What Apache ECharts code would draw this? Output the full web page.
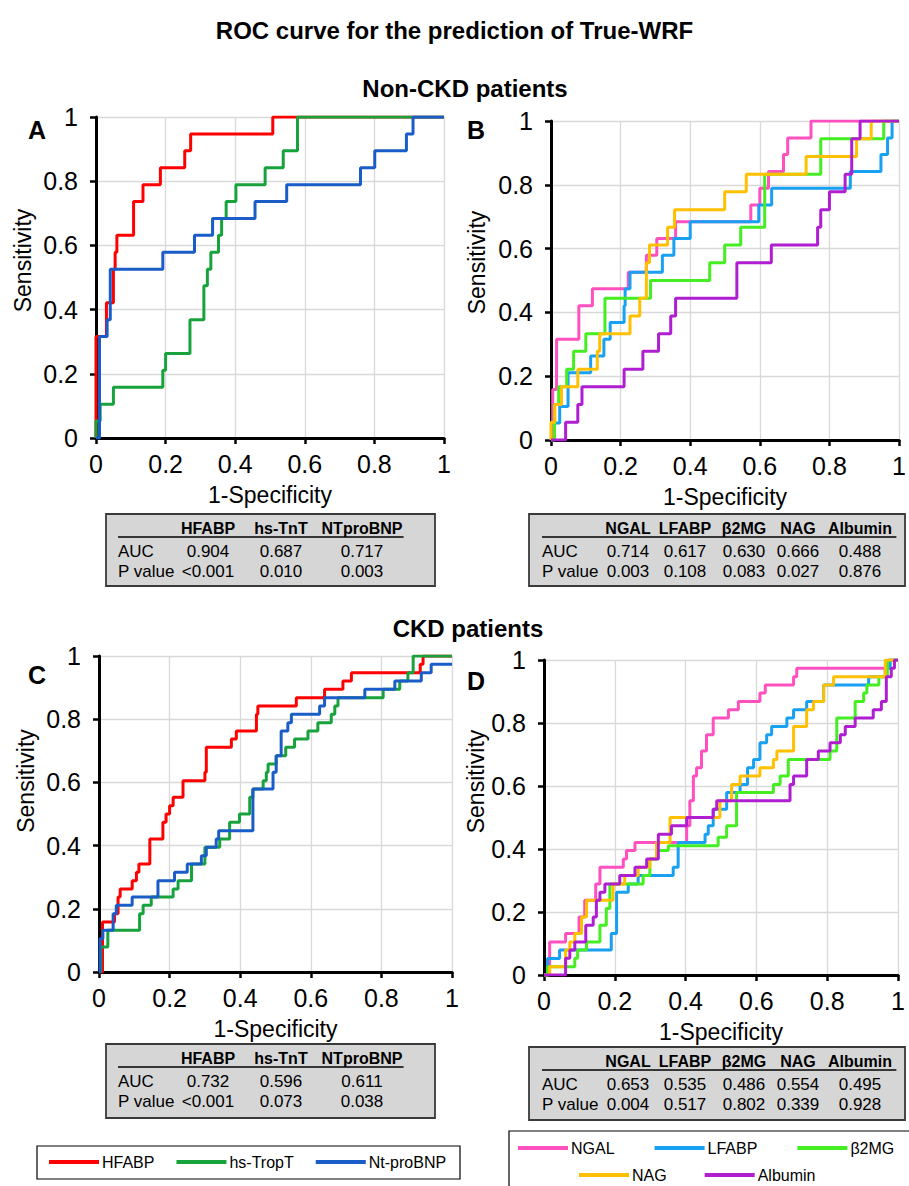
<!DOCTYPE html>
<html><head><meta charset="utf-8">
<script src="https://cdn.jsdelivr.net/npm/echarts@6/dist/echarts.min.js"></script>
<style>html,body{margin:0;padding:0;background:#fff}#c{width:909px;height:1186px}</style>
</head><body><div id="c"></div>
<script>
// ---------- DATA ----------
const tickLabels = ['0', '0.2', '0.4', '0.6', '0.8', '1'];
const mainTitle = 'ROC curve for the prediction of True-WRF';
const groupTitles = ['Non-CKD patients', 'CKD patients'];
const panelLetters = ['A', 'B', 'C', 'D'];
const xName = '1-Specificity';
const yName = 'Sensitivity';

const cardiacNames = ['HFABP', 'hs-TropT', 'Nt-proBNP'];
const urineNames = ['NGAL', 'LFABP', 'β2MG', 'NAG', 'Albumin'];

// Panel A (Non-CKD, cardiac)
const A_HFABP_x = [0,0,0.03,0.03,0.05,0.055,0.06,0.108,0.135,0.185,0.255,0.272,0.508,1];
const A_HFABP_y = [0,0.316,0.368,0.421,0.526,0.579,0.632,0.737,0.789,0.842,0.895,0.947,1,1];
const A_TnT_x = [0,0,0.012,0.05,0.192,0.2,0.27,0.31,0.32,0.33,0.352,0.361,0.374,0.402,0.486,0.538,0.579,1];
const A_TnT_y = [0,0.053,0.105,0.158,0.211,0.263,0.368,0.474,0.526,0.579,0.632,0.684,0.737,0.789,0.842,0.895,1,1];
const A_BNP_x = [0,0.01,0.032,0.041,0.192,0.283,0.335,0.457,0.548,0.76,0.801,0.892,0.911,1];
const A_BNP_y = [0,0.316,0.368,0.526,0.579,0.632,0.684,0.737,0.789,0.842,0.895,0.947,1,1];

// Panel B (Non-CKD, urinary)
const B_NGAL_x = [0,0.005,0.016,0.08,0.119,0.222,0.274,0.304,0.358,0.574,0.6,0.625,0.668,0.68,0.747,1];
const B_NGAL_y = [0,0.158,0.316,0.421,0.474,0.526,0.579,0.632,0.684,0.737,0.789,0.842,0.895,0.947,1,1];
const B_LFABP_x = [0,0.01,0.025,0.049,0.114,0.152,0.17,0.21,0.213,0.227,0.32,0.353,0.4,0.597,0.634,0.86,0.948,0.967,0.98,1];
const B_LFABP_y = [0,0.053,0.105,0.211,0.263,0.316,0.368,0.421,0.474,0.526,0.579,0.632,0.684,0.737,0.789,0.842,0.895,0.947,1,1];
const B_B2MG_x = [0,0.01,0.022,0.045,0.065,0.1,0.155,0.286,0.456,0.499,0.545,0.614,0.775,0.956,1];
const B_B2MG_y = [0,0.111,0.167,0.222,0.278,0.333,0.444,0.5,0.556,0.611,0.667,0.833,0.944,1,1];
const B_NAG_x = [0,0,0.011,0.03,0.077,0.133,0.14,0.227,0.255,0.274,0.283,0.335,0.355,0.499,0.561,0.733,0.878,0.92,1];
const B_NAG_y = [0,0.056,0.111,0.167,0.222,0.278,0.333,0.389,0.444,0.556,0.611,0.667,0.722,0.778,0.833,0.889,0.944,1,1];
const B_ALB_x = [0,0.042,0.077,0.089,0.21,0.264,0.309,0.344,0.358,0.534,0.633,0.766,0.775,0.8,0.845,0.864,0.888,1];
const B_ALB_y = [0,0.056,0.111,0.167,0.222,0.278,0.333,0.389,0.444,0.556,0.611,0.667,0.722,0.778,0.833,0.944,1,1];

// Panel C (CKD, cardiac)
const C_HFABP_x = [0,0.01,0.044,0.054,0.06,0.094,0.106,0.113,0.144,0.181,0.19,0.2,0.21,0.238,0.3,0.304,0.375,0.389,0.446,0.45,0.559,0.639,0.691,0.715,0.91,0.918,1];
const C_HFABP_y = [0,0.158,0.184,0.237,0.263,0.289,0.316,0.342,0.421,0.474,0.5,0.526,0.553,0.605,0.632,0.711,0.737,0.763,0.816,0.842,0.868,0.895,0.921,0.947,0.974,1,1];
const C_TnT_x = [0,0.005,0.025,0.115,0.125,0.148,0.21,0.224,0.262,0.3,0.342,0.37,0.398,0.427,0.436,0.465,0.474,0.479,0.502,0.529,0.554,0.592,0.62,0.658,0.668,0.677,0.767,0.805,0.852,0.875,0.89,1];
const C_TnT_y = [0,0.079,0.132,0.184,0.211,0.237,0.263,0.289,0.342,0.395,0.421,0.474,0.5,0.553,0.579,0.605,0.632,0.658,0.684,0.711,0.737,0.763,0.789,0.816,0.842,0.868,0.868,0.895,0.921,0.947,1,1];
const C_BNP_x = [0,0.003,0.011,0.04,0.049,0.094,0.167,0.214,0.25,0.29,0.304,0.332,0.339,0.436,0.493,0.502,0.516,0.535,0.545,0.625,0.639,0.753,0.838,0.913,0.941,1];
const C_BNP_y = [0,0.105,0.132,0.184,0.211,0.237,0.289,0.316,0.342,0.368,0.395,0.421,0.447,0.579,0.632,0.684,0.763,0.789,0.816,0.842,0.868,0.895,0.921,0.947,0.974,0.974];

// Panel D (CKD, urinary)
const D_NGAL_x = [0,0.01,0.016,0.061,0.099,0.115,0.146,0.158,0.224,0.233,0.257,0.403,0.412,0.422,0.431,0.445,0.459,0.478,0.521,0.549,0.61,0.625,0.705,0.714,0.974,1];
const D_NGAL_y = [0,0.026,0.105,0.132,0.184,0.237,0.289,0.342,0.368,0.395,0.421,0.474,0.553,0.632,0.658,0.711,0.763,0.816,0.842,0.868,0.895,0.921,0.947,0.974,1,1];
const D_LFABP_x = [0,0.01,0.044,0.19,0.205,0.238,0.266,0.365,0.379,0.455,0.464,0.478,0.516,0.554,0.575,0.592,0.61,0.629,0.643,0.686,0.705,0.742,0.79,0.917,0.964,0.978,1];
const D_LFABP_y = [0,0.052,0.079,0.132,0.263,0.289,0.316,0.342,0.421,0.447,0.474,0.526,0.579,0.605,0.658,0.684,0.737,0.763,0.789,0.816,0.842,0.868,0.921,0.947,0.974,1,1];
const D_B2MG_x = [0,0.01,0.087,0.095,0.12,0.158,0.176,0.186,0.28,0.299,0.318,0.351,0.492,0.516,0.544,0.648,0.667,0.69,0.808,0.827,0.879,0.903,0.912,0.946,0.97,1];
const D_B2MG_y = [0,0.026,0.053,0.079,0.105,0.158,0.211,0.289,0.316,0.368,0.395,0.41,0.437,0.474,0.579,0.605,0.632,0.684,0.711,0.816,0.868,0.895,0.921,0.947,1,1];
const D_NAG_x = [0,0.016,0.061,0.073,0.087,0.106,0.12,0.195,0.228,0.266,0.299,0.318,0.356,0.497,0.53,0.554,0.61,0.648,0.658,0.705,0.742,0.761,0.79,0.818,0.964,1];
const D_NAG_y = [0,0.026,0.079,0.105,0.132,0.184,0.237,0.289,0.316,0.342,0.368,0.421,0.5,0.553,0.605,0.632,0.658,0.684,0.711,0.789,0.842,0.868,0.921,0.947,1,1];
const D_ALB_x = [0,0.061,0.073,0.087,0.118,0.139,0.148,0.158,0.172,0.214,0.257,0.29,0.323,0.36,0.403,0.478,0.488,0.695,0.705,0.742,0.775,0.808,0.837,0.851,0.879,0.93,0.953,0.967,0.981,0.99,1];
const D_ALB_y = [0,0.053,0.079,0.105,0.158,0.184,0.237,0.263,0.289,0.316,0.342,0.368,0.447,0.474,0.5,0.526,0.553,0.605,0.632,0.684,0.711,0.737,0.763,0.789,0.816,0.842,0.868,0.947,0.974,1,1];

// Tables
const cardiacHeaders = ['HFABP', 'hs-TnT', 'NTproBNP'];
const urineHeaders = ['NGAL', 'LFABP', 'β2MG', 'NAG', 'Albumin'];
const rowLabels = ['AUC', 'P value'];
const tableA_auc = ['0.904', '0.687', '0.717'];
const tableA_p = ['<0.001', '0.010', '0.003'];
const tableB_auc = ['0.714', '0.617', '0.630', '0.666', '0.488'];
const tableB_p = ['0.003', '0.108', '0.083', '0.027', '0.876'];
const tableC_auc = ['0.732', '0.596', '0.611'];
const tableC_p = ['<0.001', '0.073', '0.038'];
const tableD_auc = ['0.653', '0.535', '0.486', '0.554', '0.495'];
const tableD_p = ['0.004', '0.517', '0.802', '0.339', '0.928'];

// ---------- STYLE / LAYOUT ----------
const FONT = '"Liberation Sans", Arial, sans-serif';
const colors = {
  'HFABP': '#ff0000', 'hs-TropT': '#17a23c', 'Nt-proBNP': '#1a5cc8',
  'NGAL': '#ff50c0', 'LFABP': '#18a0f2', 'β2MG': '#44ee22', 'NAG': '#ffc000', 'Albumin': '#b01ed2'
};
const grids = [
  {left: 96, top: 117, width: 348, height: 321},
  {left: 551, top: 121, width: 356, height: 319},
  {left: 99, top: 656, width: 353, height: 316},
  {left: 544, top: 660, width: 354, height: 315}
];
const yNameGap = [62, 63, 62, 51];
const yNameShift = [34, 36, 66, 72];

const pts = (xs, ys) => xs.map((x, i) => [x, ys[i]]);
const fmt = v => tickLabels[Math.round(v / 0.2)];

const panelSeries = [
  [['HFABP', A_HFABP_x, A_HFABP_y], ['hs-TropT', A_TnT_x, A_TnT_y], ['Nt-proBNP', A_BNP_x, A_BNP_y]],
  [['NGAL', B_NGAL_x, B_NGAL_y], ['LFABP', B_LFABP_x, B_LFABP_y], ['β2MG', B_B2MG_x, B_B2MG_y], ['NAG', B_NAG_x, B_NAG_y], ['Albumin', B_ALB_x, B_ALB_y]],
  [['HFABP', C_HFABP_x, C_HFABP_y], ['hs-TropT', C_TnT_x, C_TnT_y], ['Nt-proBNP', C_BNP_x, C_BNP_y]],
  [['NGAL', D_NGAL_x, D_NGAL_y], ['LFABP', D_LFABP_x, D_LFABP_y], ['β2MG', D_B2MG_x, D_B2MG_y], ['NAG', D_NAG_x, D_NAG_y], ['Albumin', D_ALB_x, D_ALB_y]]
];

const series = [];
panelSeries.forEach((list, k) => {
  list.forEach(([name, xs, ys], j) => {
    series.push({
      type: 'line', name, xAxisIndex: k, yAxisIndex: k,
      data: pts(xs, ys), step: 'end', symbol: 'none', showSymbol: false,
      lineStyle: {width: 3, color: colors[name]}, itemStyle: {color: colors[name]},
      z: 3 + j, animation: false, silent: true
    });
  });
});

const xAxes = grids.map((g, k) => ({
  gridIndex: k, type: 'value', min: 0, max: 1, interval: 0.2,
  name: xName, nameLocation: 'middle', nameGap: 45,
  nameTextStyle: {fontSize: 23, color: '#000', fontFamily: FONT},
  axisLine: {show: true, onZero: false, lineStyle: {color: '#000', width: 3}},
  axisTick: {show: true, length: 6, lineStyle: {color: '#000', width: 2.5}},
  axisLabel: {fontSize: 25, color: '#000', fontFamily: FONT, margin: 13, formatter: fmt},
  splitLine: {show: true, lineStyle: {color: '#d9d9d9', width: 1.3}}
}));
const yAxes = grids.map((g, k) => ({
  gridIndex: k, type: 'value', min: 0, max: 1, interval: 0.2,
  name: yName, nameLocation: 'middle', nameGap: yNameGap[k], nameRotate: 90,
  nameTextStyle: {fontSize: 23, color: '#000', fontFamily: FONT, padding: [0, 0, 0, yNameShift[k]]},
  axisLine: {show: true, onZero: false, lineStyle: {color: '#000', width: 3}},
  axisTick: {show: true, length: 6, lineStyle: {color: '#000', width: 2.5}},
  axisLabel: {fontSize: 25, color: '#000', fontFamily: FONT, margin: 18, formatter: fmt},
  splitLine: {show: true, lineStyle: {color: '#d9d9d9', width: 1.3}}
}));

function txt(x, y, text, size, bold, align, extra) {
  return Object.assign({
    type: 'text', x, y, z: 20,
    style: {text, fontSize: size, fontWeight: bold ? 'bold' : 'normal', fontFamily: FONT, fill: '#000',
      textAlign: align || 'center', align: align || 'center', textVerticalAlign: 'middle', verticalAlign: 'middle'}
  }, extra || {});
}

function table(box, labelX, colX, headers, auc, p) {
  const els = [];
  els.push({type: 'rect', z: 10, shape: {x: box.x, y: box.y, width: box.w, height: box.h},
    style: {fill: '#d6d6d6', stroke: '#3a3a3a', lineWidth: 1.8}});
  const hy = box.y + 14, ay = box.y + 37, py = box.y + 57;
  headers.forEach((h, i) => els.push(txt(colX[i], hy, h, 16, true)));
  els.push({type: 'line', z: 20, shape: {x1: labelX, y1: box.y + 23, x2: colX[colX.length - 1] + (headers[headers.length - 1].length * 5.2), y2: box.y + 23},
    style: {stroke: '#000', lineWidth: 1.5}});
  els.push(txt(labelX, ay, rowLabels[0], 17, false, 'left'));
  els.push(txt(labelX, py, rowLabels[1], 17, false, 'left'));
  auc.forEach((v, i) => els.push(txt(colX[i], ay, v, 17, false)));
  p.forEach((v, i) => els.push(txt(colX[i], py, v, 17, false)));
  return els;
}

const graphics = [
  txt(465, 88, groupTitles[0], 24, true),
  txt(468, 628, groupTitles[1], 24, true),
  txt(37, 130, panelLetters[0], 25, true),
  txt(476, 130, panelLetters[1], 25, true),
  txt(37, 675, panelLetters[2], 25, true),
  txt(476, 681, panelLetters[3], 25, true),
  ...table({x: 106, y: 514, w: 329, h: 72}, 118, [208, 281, 362], cardiacHeaders, tableA_auc, tableA_p),
  ...table({x: 529, y: 514, w: 376, h: 72}, 542, [628, 685, 744, 798, 860], urineHeaders, tableB_auc, tableB_p),
  ...table({x: 106, y: 1044, w: 329, h: 74}, 118, [208, 281, 362], cardiacHeaders, tableC_auc, tableC_p),
  ...table({x: 529, y: 1047, w: 376, h: 73}, 542, [628, 685, 744, 798, 860], urineHeaders, tableD_auc, tableD_p),
  {type: 'rect', z: 1, shape: {x: 37, y: 1146, width: 423, height: 33}, style: {fill: 'none', stroke: '#000', lineWidth: 1.2}},
  {type: 'rect', z: 1, shape: {x: 509, y: 1131, width: 420, height: 70}, style: {fill: 'none', stroke: '#000', lineWidth: 1.2}}
];

const legendCommon = {
  icon: 'rect', itemWidth: 50, itemHeight: 4, padding: 0, selectedMode: false,
  textStyle: {fontSize: 16, color: '#000', fontFamily: FONT, padding: [0, 0, 0, -2]}
};

const option = {
  backgroundColor: '#fff',
  animation: false,
  title: {text: mainTitle, left: 'center', top: 18, padding: 0,
    textStyle: {fontSize: 24, fontWeight: 'bold', color: '#000', fontFamily: FONT}},
  grid: grids,
  xAxis: xAxes,
  yAxis: yAxes,
  legend: [
    Object.assign({}, legendCommon, {data: cardiacNames, left: 49, top: 1154, itemGap: 22}),
    Object.assign({}, legendCommon, {data: urineNames.slice(0, 3), left: 518, top: 1140, itemGap: 40}),
    Object.assign({}, legendCommon, {data: urineNames.slice(3), left: 579, top: 1167, itemGap: 38})
  ],
  graphic: graphics,
  series
};

const chart = echarts.init(document.getElementById('c'), null, {renderer: 'svg', width: 909, height: 1186});
chart.setOption(option);
</script></body></html>
